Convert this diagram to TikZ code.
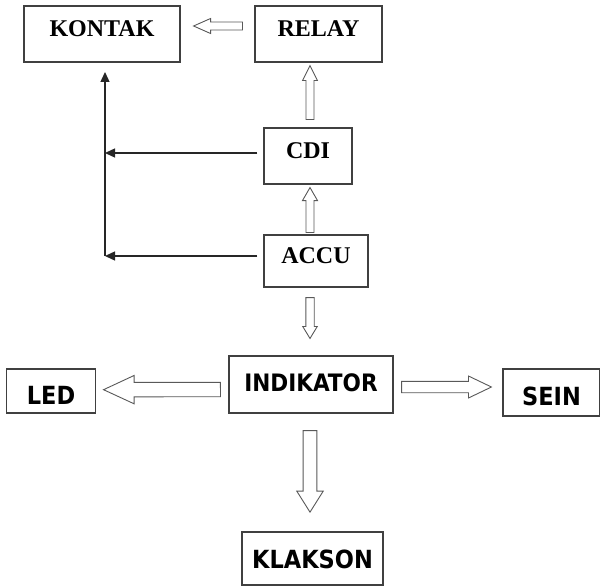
\documentclass[tikz,border=0pt]{standalone}
\usepackage{fontspec}
\setmainfont{Liberation Serif}
\newfontfamily\boxsans{DejaVu Sans Condensed}
\usetikzlibrary{calc,arrows.meta}

% hollow block arrow: from, to, shaft half width, head half width, head length
\newcommand{\hollowarrow}[5]{%
  \coordinate (ha) at #1;
  \coordinate (hb) at #2;
  \coordinate (hm) at ($(hb)!#5!(ha)$);
  \draw[hollow] ($(ha)!#3!90:(hb)$) -- ($(hm)!#3!90:(hb)$) -- ($(hm)!#4!90:(hb)$) -- (hb)
    -- ($(hm)!#4!-90:(hb)$) -- ($(hm)!#3!-90:(hb)$) -- ($(ha)!#3!-90:(hb)$) -- cycle;}

\begin{document}
\begin{tikzpicture}[x=1pt,y=-1pt]
        \tikzset{
            block/.style={rectangle,draw=black!75,line width=1.1pt,inner sep=3pt},
            serifblock/.style={block,font=\fontsize{24}{27}\selectfont\bfseries,text height=16pt,text depth=11pt},
            sansblock/.style={block,font=\boxsans\bfseries\fontsize{25}{28}\selectfont},
            hollow/.style={draw=black!65,line width=0.9pt,fill=white,line join=miter},
            link/.style={draw=black!85,line width=1.3pt,-{Triangle[length=10pt,width=9pt]}}
        }
        \useasboundingbox (0,0) rectangle (600,586);

        \node[serifblock,minimum width=156pt,minimum height=56pt] (kontak) at (102,34) {KONTAK};
        \node[serifblock,minimum width=127pt,minimum height=56pt] (relay) at (318.5,34) {RELAY};
        \node[serifblock,minimum width=88pt,minimum height=56pt] (cdi) at (308,156) {CDI};
        \node[serifblock,minimum width=104pt,minimum height=52pt] (accu) at (316,261) {ACCU};

        \node[sansblock,font=\boxsans\bfseries\fontsize{24}{27}\selectfont,text height=17pt,text depth=4pt,minimum width=164pt,minimum height=57pt] (indikator) at (311,384.5) {INDIKATOR};
        \node[sansblock,text height=26pt,text depth=0pt,minimum width=89pt,minimum height=44pt] (led) at (51,391) {LED};
        \node[sansblock,text height=25pt,text depth=0pt,minimum width=97pt,minimum height=47pt] (sein) at (551.5,392.5) {SEIN};
        \node[sansblock,text height=19pt,text depth=0pt,minimum width=141pt,minimum height=53pt] (klakson) at (312.5,558.5) {KLAKSON};

        \hollowarrow{([xshift=-12pt,yshift=8pt]relay.west)}{([xshift=13pt,yshift=8pt]kontak.east)}{4pt}{7.5pt}{17pt}
        \hollowarrow{([xshift=2pt,yshift=8pt]cdi.north)}{([xshift=-8.5pt,yshift=-3pt]relay.south)}{4pt}{7.5pt}{15pt}
        \hollowarrow{([xshift=-6pt,yshift=2pt]accu.north)}{([xshift=2pt,yshift=-3pt]cdi.south)}{4pt}{7.5pt}{13pt}
        \hollowarrow{([xshift=-6pt,yshift=-10pt]accu.south)}{([xshift=-1pt,yshift=17pt]indikator.north)}{4.2pt}{7.3pt}{12pt}
        \hollowarrow{([xshift=-8pt,yshift=-5pt]indikator.west)}{([xshift=7.5pt,yshift=1.3pt]led.east)}{7.2pt}{14.2pt}{30.6pt}
        \hollowarrow{([xshift=8pt,yshift=-2.5pt]indikator.east)}{([xshift=-11pt,yshift=5.5pt]sein.west)}{5.7pt}{11pt}{23pt}
        \hollowarrow{([xshift=-1pt,yshift=-17pt]indikator.south)}{([xshift=-2.5pt,yshift=19.3pt]klakson.north)}{6.9pt}{13.2pt}{21pt}

        \coordinate (jtop) at (105,72);
        \coordinate (jlow) at (105,256);
        \coordinate (cdiout) at ([xshift=-6pt,yshift=3pt]cdi.west);
        \coordinate (accuout) at ([xshift=-6pt,yshift=5pt]accu.west);

        \draw[link] (cdiout) -- (cdiout -| jtop);
        \draw[link] (accuout) -- (jlow);
        \draw[link] (jlow) -- (jtop);
    \end{tikzpicture}
\end{document}
